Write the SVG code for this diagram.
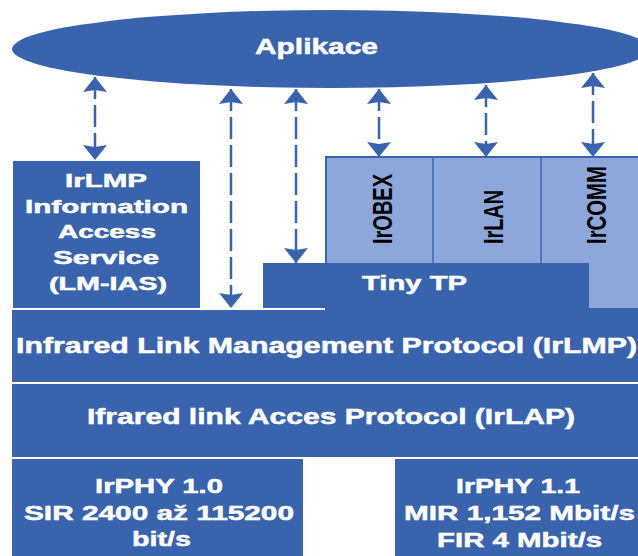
<svg xmlns="http://www.w3.org/2000/svg" width="638" height="556" viewBox="0 0 638 556">
<defs>
<style>
.dk{fill:#3A63AD}
.lt{fill:#8EA7DA}
.w{fill:#FFFFFF;stroke:#FFFFFF;stroke-width:0.5;font-family:"Liberation Sans",Arial,sans-serif;font-weight:bold}
.v{fill:#000000;font-family:"Liberation Sans",Arial,sans-serif;font-size:20px;font-weight:bold}
.c{stroke:#3A63AD;stroke-width:2.5;fill:none;stroke-dasharray:22 6}
</style>
<marker id="ah" viewBox="0 0 15 24" refX="15" refY="12" markerWidth="15" markerHeight="24" markerUnits="userSpaceOnUse" orient="auto-start-reverse">
<path d="M0,0 L15,12 L0,24 L2,12 Z" fill="#3A63AD"/>
</marker>
</defs>
<rect width="638" height="556" fill="#FFFFFF"/>

<g id="aplikace">
<ellipse cx="331" cy="49" rx="319" ry="39" class="dk"/>
<text class="w" x="255" y="54" font-size="22" textLength="123" lengthAdjust="spacingAndGlyphs">Aplikace</text>
</g>

<g id="lm-ias">
<rect x="13" y="161" width="187" height="147" class="dk"/>
<text class="w" font-size="19" x="65" y="187" textLength="82" lengthAdjust="spacingAndGlyphs">IrLMP</text>
<text class="w" font-size="19" x="25" y="213" textLength="163" lengthAdjust="spacingAndGlyphs">Information</text>
<text class="w" font-size="19" x="58" y="238" textLength="98" lengthAdjust="spacingAndGlyphs">Access</text>
<text class="w" font-size="19" x="53" y="264" textLength="106" lengthAdjust="spacingAndGlyphs">Service</text>
<text class="w" font-size="19" x="49" y="290" textLength="118" lengthAdjust="spacingAndGlyphs">(LM-IAS)</text>
</g>

<g id="upper-protocols">
<rect x="326" y="157" width="330" height="152" class="lt" stroke="#3A63AD" stroke-width="2"/>
<line x1="433" y1="157" x2="433" y2="263" stroke="#3A63AD" stroke-width="1.5"/>
<line x1="541" y1="157" x2="541" y2="263" stroke="#3A63AD" stroke-width="1.5"/>
</g>

<g id="irobex">
<text class="v" transform="translate(392,244) scale(1.4,1) rotate(-90)" x="0" y="0" textLength="70" lengthAdjust="spacingAndGlyphs">IrOBEX</text>
</g>
<g id="irlan">
<text class="v" transform="translate(503,244) scale(1.4,1) rotate(-90)" x="0" y="0" textLength="54" lengthAdjust="spacingAndGlyphs">IrLAN</text>
</g>
<g id="ircomm">
<text class="v" transform="translate(606,244) scale(1.4,1) rotate(-90)" x="0" y="0" textLength="78" lengthAdjust="spacingAndGlyphs">IrCOMM</text>
</g>

<g id="tiny-tp">
<rect x="263" y="263" width="326" height="45" class="dk"/>
<text class="w" x="362" y="290" font-size="21" textLength="105" lengthAdjust="spacingAndGlyphs">Tiny TP</text>
</g>

<g id="irlmp">
<rect x="12" y="310" width="640" height="72" class="dk"/>
<text class="w" x="16" y="353" font-size="22" textLength="621" lengthAdjust="spacingAndGlyphs">Infrared Link Management Protocol (IrLMP)</text>
</g>

<g id="irlap">
<rect x="12" y="384" width="640" height="73" class="dk"/>
<text class="w" x="87" y="424" font-size="22" textLength="488" lengthAdjust="spacingAndGlyphs">Ifrared link Acces Protocol (IrLAP)</text>
</g>

<g id="irphy10">
<rect x="12" y="459" width="291" height="97" class="dk"/>
<text class="w" x="95" y="493" font-size="21" textLength="128" lengthAdjust="spacingAndGlyphs">IrPHY 1.0</text>
<text class="w" x="24" y="520" font-size="21" textLength="270" lengthAdjust="spacingAndGlyphs">SIR 2400 až 115200</text>
<text class="w" x="132" y="546" font-size="21" textLength="59" lengthAdjust="spacingAndGlyphs">bit/s</text>
</g>

<g id="irphy11">
<rect x="395" y="459" width="255" height="97" class="dk"/>
<text class="w" x="456" y="493" font-size="21" textLength="124" lengthAdjust="spacingAndGlyphs">IrPHY 1.1</text>
<text class="w" x="404" y="520" font-size="21" textLength="231" lengthAdjust="spacingAndGlyphs">MIR 1,152 Mbit/s</text>
<text class="w" x="437" y="547" font-size="21" textLength="165" lengthAdjust="spacingAndGlyphs">FIR 4 Mbit/s</text>
</g>

<g id="connectors">
<line class="c" x1="95" y1="77" x2="95" y2="160" marker-start="url(#ah)" marker-end="url(#ah)"/>
<line class="c" x1="231" y1="89" x2="231" y2="308" marker-start="url(#ah)" marker-end="url(#ah)"/>
<line class="c" x1="296" y1="89" x2="296" y2="263" marker-start="url(#ah)" marker-end="url(#ah)"/>
<line class="c" x1="379" y1="89" x2="379" y2="157" marker-start="url(#ah)" marker-end="url(#ah)"/>
<line class="c" x1="486" y1="85" x2="486" y2="157" marker-start="url(#ah)" marker-end="url(#ah)"/>
<line class="c" x1="593" y1="73" x2="593" y2="157" marker-start="url(#ah)" marker-end="url(#ah)"/>
</g>
</svg>
